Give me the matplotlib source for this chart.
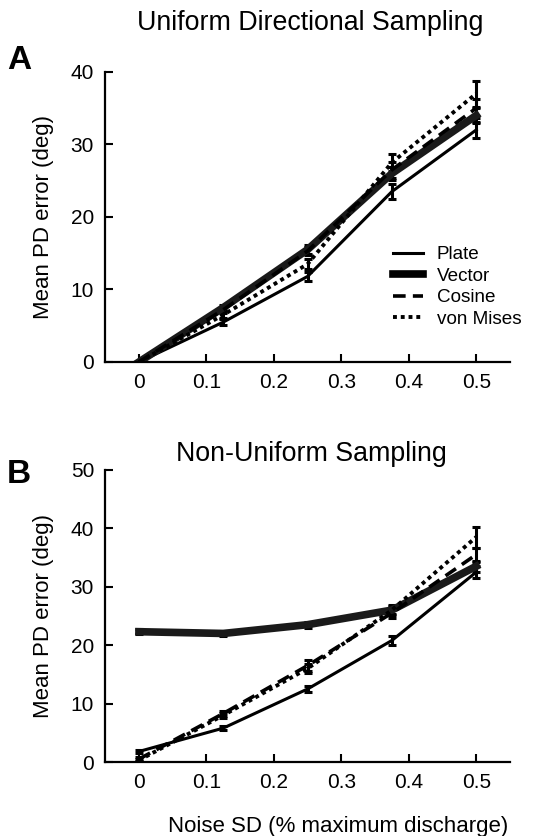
import numpy as np
import matplotlib
matplotlib.use("Agg")
import matplotlib.pyplot as plt

plt.rcParams['font.family'] = ['Liberation Sans', 'DejaVu Sans']

# ---------- data ----------
noise_sd = [0, 0.125, 0.25, 0.375, 0.5]
methods = ["Plate", "Vector", "Cosine", "von Mises"]

# panel A: uniform directional sampling
uni_plate = [0, 5.5, 11.8, 23.5, 32.0]
uni_vector = [0, 7.5, 15.5, 26.0, 34.0]
uni_cosine = [0, 7.2, 15.3, 26.5, 35.0]
uni_vonmises = [0, 6.5, 13.5, 27.5, 37.0]
uni_plate_err = [0, 0.4, 0.6, 1.0, 1.1]
uni_vector_err = [0, 0.4, 0.6, 0.9, 1.0]
uni_cosine_err = [0, 0.4, 0.6, 1.1, 1.3]
uni_vonmises_err = [0, 0.4, 0.7, 1.2, 1.8]

# panel B: non-uniform sampling
non_plate = [1.8, 5.8, 12.5, 20.8, 32.5]
non_vector = [22.3, 22.0, 23.5, 26.0, 33.5]
non_cosine = [0.5, 8.3, 16.5, 25.5, 35.5]
non_vonmises = [0.3, 8.0, 16.0, 26.0, 38.5]
non_plate_err = [0.3, 0.3, 0.5, 0.8, 1.0]
non_vector_err = [0.4, 0.4, 0.5, 0.7, 0.9]
non_cosine_err = [0.3, 0.4, 0.9, 0.9, 1.2]
non_vonmises_err = [0.3, 0.4, 0.8, 0.9, 1.8]

styles = {
    "Plate": dict(lw=2.2, ls="-", color="black"),
    "Vector": dict(lw=5.5, ls="-", color="#1a1a1a"),
    "Cosine": dict(lw=2.6, ls=(0, (3.5, 2.0)), color="black"),
    "von Mises": dict(lw=2.8, ls=(0, (1.0, 1.0)), color="black"),
}


def draw_panel(ax, series, errs, ymax, legend=False):
    for name, y, e in zip(methods, series, errs):
        st = styles[name]
        ax.errorbar(noise_sd, y, yerr=e, color=st["color"], lw=st["lw"], ls=st["ls"],
                    ecolor="black", elinewidth=2.2, capsize=3, capthick=2.2, label=name)
    ax.set_xlim(-0.05, 0.55)
    ax.set_ylim(0, ymax)
    ax.set_xticks([0, 0.1, 0.2, 0.3, 0.4, 0.5])
    ax.set_xticklabels(["0", "0.1", "0.2", "0.3", "0.4", "0.5"])
    ax.set_yticks(np.arange(0, ymax + 1, 10))
    ax.spines["top"].set_visible(False)
    ax.spines["right"].set_visible(False)
    ax.spines["left"].set_linewidth(1.6)
    ax.spines["bottom"].set_linewidth(1.6)
    ax.tick_params(direction="in", length=6, width=1.5, labelsize=15, pad=8)
    ax.set_ylabel("Mean PD error (deg)", fontsize=16, labelpad=12)
    if legend:
        handles = []
        for name in methods:
            st = styles[name]
            h, = ax.plot([], [], color="black", lw=st["lw"], ls=st["ls"], label=name)
            handles.append(h)
        ax.legend(handles=handles, loc="lower right", bbox_to_anchor=(1.07, 0.06),
                  frameon=False, fontsize=13.6, handlelength=1.6,
                  handletextpad=0.7, labelspacing=0.22)


fig = plt.figure(figsize=(5.34, 8.36), dpi=100)
axA = fig.add_axes([0.197, 0.567, 0.758, 0.347])
axB = fig.add_axes([0.197, 0.0885, 0.758, 0.3495])

draw_panel(axA, [uni_plate, uni_vector, uni_cosine, uni_vonmises],
           [uni_plate_err, uni_vector_err, uni_cosine_err, uni_vonmises_err], 40, legend=True)
draw_panel(axB, [non_plate, non_vector, non_cosine, non_vonmises],
           [non_plate_err, non_vector_err, non_cosine_err, non_vonmises_err], 50)

fig.text(0.58, 0.973, "Uniform Directional Sampling", ha="center", va="center", fontsize=19.3)
fig.text(0.584, 0.457, "Non-Uniform Sampling", ha="center", va="center", fontsize=19.3)
fig.text(0.013, 0.928, "A", fontsize=24, fontweight="bold", va="center")
fig.text(0.013, 0.433, "B", fontsize=24, fontweight="bold", va="center")
fig.text(0.633, 0.011, "Noise SD (% maximum discharge)", ha="center", va="center", fontsize=16)

fig.savefig("out.png", dpi=100)
